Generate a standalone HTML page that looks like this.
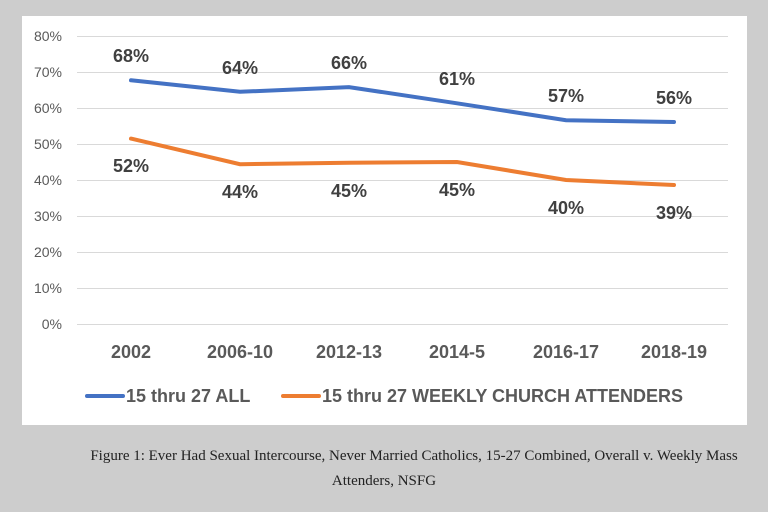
<!DOCTYPE html>
<html><head><meta charset="utf-8"><style>
body{margin:0;background:#cdcdcd;width:768px;height:507px;overflow:hidden;font-family:"Liberation Sans",sans-serif}
</style></head><body>
<svg width="768" height="507" xmlns="http://www.w3.org/2000/svg">
<rect x="0" y="0" width="768" height="507" fill="#cdcdcd"/>
<rect x="22" y="16" width="725" height="409" fill="#fff"/>
<g stroke="#d9d9d9" stroke-width="1">
<line x1="77" x2="728" y1="36.5" y2="36.5"/><line x1="77" x2="728" y1="72.5" y2="72.5"/>
<line x1="77" x2="728" y1="108.5" y2="108.5"/><line x1="77" x2="728" y1="144.5" y2="144.5"/>
<line x1="77" x2="728" y1="180.5" y2="180.5"/><line x1="77" x2="728" y1="216.5" y2="216.5"/>
<line x1="77" x2="728" y1="252.5" y2="252.5"/><line x1="77" x2="728" y1="288.5" y2="288.5"/>
<line x1="77" x2="728" y1="324.5" y2="324.5"/>
</g>
<g fill="#595959" font-size="14" text-anchor="end">
<text x="62" y="41">80%</text><text x="62" y="77">70%</text><text x="62" y="113">60%</text>
<text x="62" y="149">50%</text><text x="62" y="185">40%</text><text x="62" y="221">30%</text>
<text x="62" y="257">20%</text><text x="62" y="293">10%</text><text x="62" y="329">0%</text>
</g>
<polyline fill="none" stroke="#4472c4" stroke-width="4" stroke-linecap="round" points="131,80.3 240,91.8 349,87.1 457,103.3 566,120.2 674,122"/>
<polyline fill="none" stroke="#ed7d31" stroke-width="4" stroke-linecap="round" points="131,138.6 240,164.2 349,162.7 457,162 566,180 674,185"/>
<g fill="#404040" font-size="18" font-weight="bold" text-anchor="middle">
<text x="131" y="62">68%</text><text x="240" y="74">64%</text><text x="349" y="69">66%</text>
<text x="457" y="85">61%</text><text x="566" y="102">57%</text><text x="674" y="104">56%</text>
<text x="131" y="172">52%</text><text x="240" y="198">44%</text><text x="349" y="197">45%</text>
<text x="457" y="196">45%</text><text x="566" y="214">40%</text><text x="674" y="219">39%</text>
</g>
<g fill="#595959" font-size="18" font-weight="bold" text-anchor="middle">
<text x="131" y="358">2002</text><text x="240" y="358">2006-10</text><text x="349" y="358">2012-13</text>
<text x="457" y="358">2014-5</text><text x="566" y="358">2016-17</text><text x="674" y="358">2018-19</text>
</g>
<line x1="87" x2="123" y1="396" y2="396" stroke="#4472c4" stroke-width="4" stroke-linecap="round"/>
<text x="126" y="402" fill="#595959" font-size="18" font-weight="bold">15 thru 27 ALL</text>
<line x1="283" x2="319" y1="396" y2="396" stroke="#ed7d31" stroke-width="4" stroke-linecap="round"/>
<text x="322" y="402" fill="#595959" font-size="18" font-weight="bold">15 thru 27 WEEKLY CHURCH ATTENDERS</text>
<g fill="#222" font-size="15" font-family="Liberation Serif,serif" text-anchor="middle">
<text x="414" y="460">Figure 1: Ever Had Sexual Intercourse, Never Married Catholics, 15-27 Combined, Overall v. Weekly Mass</text>
<text x="384" y="485">Attenders, NSFG</text>
</g>
</svg>
</body></html>
